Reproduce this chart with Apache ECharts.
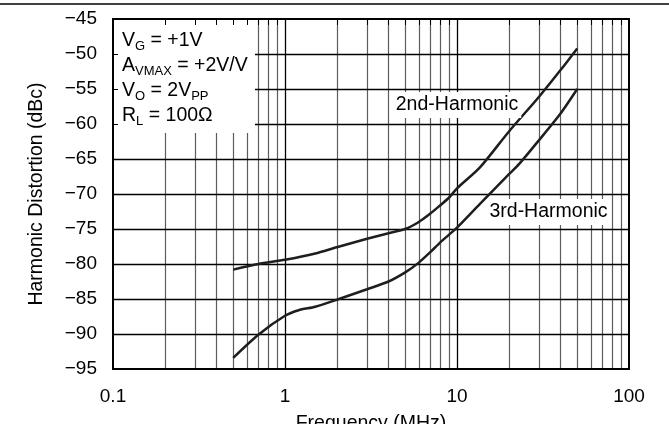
<!DOCTYPE html>
<html><head><meta charset="utf-8">
<script src="https://cdn.jsdelivr.net/npm/echarts@6/dist/echarts.min.js"></script>
<style>html,body{margin:0;padding:0;background:#fff}#c{width:669px;height:424px}</style>
</head><body><div id="c"></div>
<script>
// ---- data ----
const freq2 = [0.5, 0.7, 1, 1.5, 2, 3, 4, 5, 6, 7, 8, 9, 10, 13.6, 20, 30, 40, 50];
const harm2 = [-80.8, -80.0, -79.4, -78.5, -77.6, -76.4, -75.6, -75.0, -74.0, -72.8, -71.6, -70.5, -69.2, -66.2, -61.1, -56.1, -52.3, -49.2];
const freq3 = [0.5, 0.7, 1, 1.2, 1.5, 2, 3, 4, 5, 6, 7, 8, 9, 10, 13.6, 20, 23, 30, 40, 50];
const harm3 = [-93.4, -90.1, -87.4, -86.6, -86.1, -85.1, -83.6, -82.5, -81.2, -79.8, -78.3, -76.9, -75.8, -74.8, -71.4, -67.2, -65.7, -62.3, -58.5, -55.0];
const xTickLabels = ['0.1', '1', '10', '100'];
const xMajor = [1, 10];
const xMinor = [0.2,0.3,0.4,0.5,0.6,0.7,0.8,0.9, 2,3,4,5,6,7,8,9, 20,30,40,50,60,70,80,90];
const yLines = [-90, -85, -80, -75, -70, -65, -60, -55, -50];
const seriesNames = ['2nd-Harmonic', '3rd-Harmonic'];
const boxLines = ['{m|V}{s|G}{m| = +1V}', '{m|A}{s|VMAX}{m| = +2V/V}', '{m|V}{s|O}{m| = 2V}{s|PP}', '{m|R}{s|L}{m| = 100Ω}'];
const xTitle = 'Frequency (MHz)';
const yTitle = 'Harmonic Distortion (dBc)';

const FONT = '"Liberation Sans", Arial, Helvetica, sans-serif';
const chart = echarts.init(document.getElementById('c'));

const gridLineData = [];
xMinor.forEach(v => gridLineData.push({xAxis: v, lineStyle: {color: '#5c5c5c', width: 1.2, type: 'solid'}}));
xMajor.forEach(v => gridLineData.push({xAxis: v, lineStyle: {color: '#000', width: 1.3, type: 'solid'}}));
yLines.forEach(v => gridLineData.push({yAxis: v, lineStyle: {color: '#000', width: 1.3, type: 'solid'}}));

const tickData = xMinor.map(v => [{coord: [v, -45]}, {coord: [v, -45.85]}]);

const boxY = [40.5, 65.5, 91, 116];
const boxTexts = boxLines.map((t, i) => ({
  type: 'text', x: 122, y: boxY[i], z: 4,
  style: {
    text: t, fill: '#000', font: '19.5px ' + FONT, verticalAlign: 'middle',
    rich: {
      m: {fontSize: 19.5, fontFamily: FONT, fill: '#000', verticalAlign: 'middle', lineHeight: 24},
      s: {fontSize: 13, fontFamily: FONT, fill: '#000', verticalAlign: 'bottom', lineHeight: 12}
    }
  }
}));

chart.setOption({
  animation: false,
  backgroundColor: '#fff',
  grid: {left: 113, right: 40, top: 19, bottom: 55, show: true, borderColor: '#000', borderWidth: 2, z: 10,
    backgroundColor: 'transparent', containLabel: false, outerBoundsMode: 'none'},
  xAxis: {
    type: 'log', logBase: 10, min: 0.1, max: 100, z: 10,
    axisLine: {show: true, lineStyle: {color: '#000', width: 2}},
    axisTick: {show: false}, splitLine: {show: false}, minorTick: {show: false},
    axisLabel: {fontSize: 19, color: '#000', fontFamily: FONT, margin: 18,
      formatter: v => xTickLabels[Math.round(Math.log10(v)) + 1]},
    name: xTitle, nameLocation: 'middle', nameGap: 45,
    nameTextStyle: {fontSize: 19.5, color: '#000', fontFamily: FONT}
  },
  yAxis: {
    type: 'value', min: -95, max: -45, interval: 5, z: 10,
    axisLine: {show: true, lineStyle: {color: '#000', width: 2}},
    axisTick: {show: true, inside: true, length: 5, lineStyle: {color: '#000', width: 1}},
    splitLine: {show: false},
    axisLabel: {fontSize: 19, color: '#000', fontFamily: FONT, margin: 16,
      formatter: v => String(v).replace('-', '\u2212')},
    name: yTitle, nameLocation: 'middle', nameGap: 66, nameRotate: 90,
    nameTextStyle: {fontSize: 19.5, color: '#000', fontFamily: FONT}
  },
  series: [
    {type: 'line', name: 'grid', data: [], z: 1, silent: true,
      markLine: {z: 1, silent: true, symbol: ['none', 'none'], label: {show: false}, animation: false, data: gridLineData}},
    {type: 'line', name: 'ticks', data: [], z: 10, silent: true,
      markLine: {z: 10, silent: true, symbol: ['none', 'none'], label: {show: false}, animation: false,
        lineStyle: {color: '#000', width: 1, type: 'solid'}, data: tickData}},
    {type: 'line', name: seriesNames[0], data: freq2.map((f, i) => [f, harm2[i]]), smooth: 0.25, symbol: 'none', z: 5,
      lineStyle: {color: '#1e1e1e', width: 2.5}},
    {type: 'line', name: seriesNames[1], data: freq3.map((f, i) => [f, harm3[i]]), smooth: 0.25, symbol: 'none', z: 5,
      lineStyle: {color: '#1e1e1e', width: 2.5}}
  ],
  graphic: [
    {type: 'line', shape: {x1: 0, y1: 4, x2: 669, y2: 4}, style: {stroke: '#000', lineWidth: 1.5}, z: 20},
    {type: 'rect', shape: {x: 114, y: 20, width: 141, height: 113}, style: {fill: '#fff'}, z: 3},
    ...boxTexts,
    {type: 'text', x: 457, y: 105, z: 6, style: {text: seriesNames[0], fill: '#000', font: '19.5px ' + FONT,
      align: 'center', verticalAlign: 'middle', backgroundColor: '#fff', padding: [3, 3]}},
    {type: 'text', x: 548.5, y: 212, z: 6, style: {text: seriesNames[1], fill: '#000', font: '19.5px ' + FONT,
      align: 'center', verticalAlign: 'middle', backgroundColor: '#fff', padding: [3, 3]}}
  ]
});
</script></body></html>
